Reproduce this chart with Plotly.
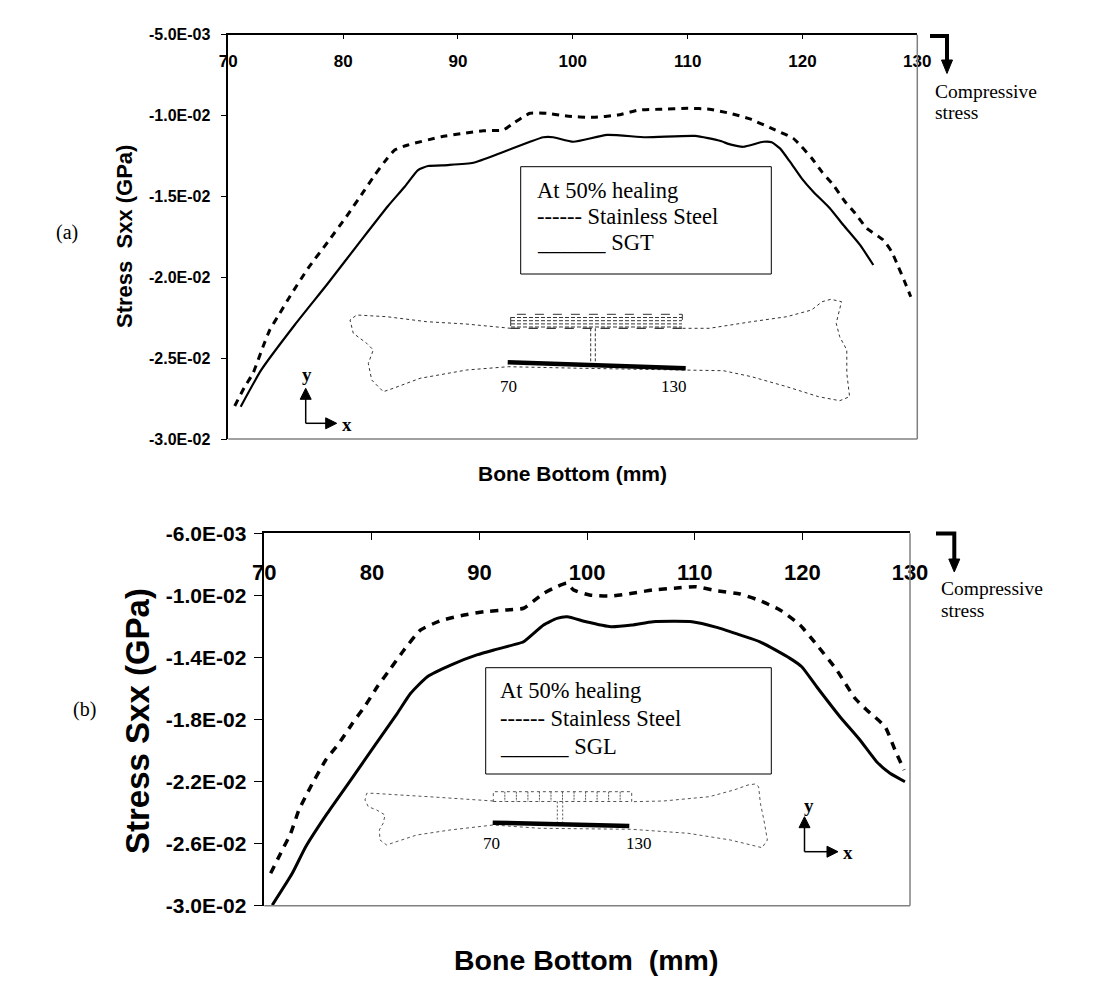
import plotly.graph_objects as go

W, H = 1093, 1005
OFF = 8  # the page places the figure 8px from the top-left corner

# ---------------- data ----------------
x_ss_a = [70.56, 71.43, 72.15, 73.02, 73.61, 74.48, 75.35, 76.94, 78.68, 80.28, 81.88, 82.75, 83.62,
          84.49, 85.65, 88.55, 90.47, 92.21, 93.95, 94.82, 96.27, 97.73, 99.47, 101.75, 103.90,
          105.74, 107.59, 110.04, 111.89, 113.69, 115.43, 117.17, 119.20, 119.93, 120.81, 121.68,
          122.69, 123.71, 124.58, 125.60, 127.04, 127.77, 128.35, 128.84, 129.43]
y_ss_a = [-0.02796, -0.02677, -0.02594, -0.0243, -0.02326, -0.02223, -0.0212, -0.01945, -0.0178,
          -0.01625, -0.0146, -0.01368, -0.01285, -0.01213, -0.01182, -0.01131, -0.0111, -0.01094,
          -0.01089, -0.01048, -0.00986, -0.00986, -0.01003, -0.01011, -0.00997, -0.00966, -0.00961,
          -0.00955, -0.00961, -0.00986, -0.01021, -0.01075, -0.01141, -0.01193, -0.01264, -0.01347,
          -0.0143, -0.01533, -0.01604, -0.01697, -0.0177, -0.01842, -0.01935, -0.02017, -0.0212]

x_sgt = [71.08, 72.87, 75.78, 78.68, 81.58, 83.91, 85.36, 86.52, 87.39, 89.13, 91.34, 93.66, 96.27,
         97.43, 98.30, 100.04, 102.98, 106.36, 110.65, 112.80, 113.69, 114.85, 116.59, 117.32,
         118.04, 118.91, 119.93, 120.94, 122.40, 123.56, 125.01, 126.17]
y_sgt = [-0.0280, -0.02573, -0.02295, -0.02037, -0.0177, -0.01559, -0.0144, -0.01337, -0.01312,
         -0.01306, -0.01292, -0.01233, -0.01162, -0.01134, -0.01134, -0.01162, -0.0112, -0.01134,
         -0.01126, -0.01156, -0.01178, -0.01193, -0.01162, -0.01165, -0.01203, -0.01285, -0.01388,
         -0.01471, -0.01574, -0.01677, -0.018, -0.01924]

x_ss_b = [70.59, 71.67, 72.45, 73.22, 74.31, 75.71, 76.94, 78.18, 79.42, 80.50, 81.75, 82.98, 84.53,
          86.39, 88.56, 90.41, 92.54, 94.09, 95.95, 97.19, 98.12, 98.74, 100.23, 102.20, 104.17,
          106.13, 108.10, 110.06, 112.03, 114.20, 115.90, 117.92, 119.78, 121.48, 123.19, 124.89,
          125.98, 127.68, 128.61, 129.45]
y_ss_b = [-0.02791, -0.02641, -0.02534, -0.02383, -0.02233, -0.02061, -0.01953, -0.01825, -0.01707,
          -0.01589, -0.0147, -0.01352, -0.01223, -0.01163, -0.01127, -0.01105, -0.01094, -0.01083,
          -0.00987, -0.00944, -0.00922, -0.00965, -0.00998, -0.01004, -0.00987, -0.00965, -0.00954,
          -0.00944, -0.0097, -0.00991, -0.0103, -0.01094, -0.01191, -0.01331, -0.01481, -0.01663,
          -0.01739, -0.01846, -0.01997, -0.02126]

x_sgl = [70.74, 72.60, 73.85, 75.85, 78.03, 80.19, 82.36, 83.60, 85.15, 87.32, 89.75, 91.34, 93.47,
         94.09, 95.95, 97.19, 98.15, 99.90, 102.20, 104.17, 106.13, 109.74, 112.04, 114.20, 116.06,
         118.85, 119.94, 121.33, 123.49, 125.35, 126.90, 128.14, 129.53]
y_sgl = [-0.02996, -0.02791, -0.0262, -0.02405, -0.0219, -0.01975, -0.0176, -0.01631, -0.01524,
         -0.01449, -0.01384, -0.01352, -0.01313, -0.01299, -0.01191, -0.01148, -0.01138, -0.0117,
         -0.01202, -0.01191, -0.0117, -0.0117, -0.01206, -0.01255, -0.01299, -0.01406, -0.0146,
         -0.01589, -0.01782, -0.01932, -0.02072, -0.02147, -0.02201]

x_ticks = [70, 80, 90, 100, 110, 120, 130]
y_ticks_a = [-0.03, -0.025, -0.02, -0.015, -0.01, -0.005]
y_text_a = ["-3.0E-02", "-2.5E-02", "-2.0E-02", "-1.5E-02", "-1.0E-02", "-5.0E-03"]
y_ticks_b = [-0.03, -0.026, -0.022, -0.018, -0.014, -0.010, -0.006]
y_text_b = ["-3.0E-02", "-2.6E-02", "-2.2E-02", "-1.8E-02", "-1.4E-02", "-1.0E-02", "-6.0E-03"]

# ---------------- helpers (page pixel -> paper) ----------------
def X(px):
    return (px - OFF) / W

def Y(py):
    return 1 - (py - OFF) / H

SANS = "Liberation Sans, Arial, sans-serif"
SERIF = "Liberation Serif, Times New Roman, serif"

# plot areas in page pixels
A = dict(l=228.3, r=917.3, t=34.7, b=439.0)
B = dict(l=264.3, r=910.0, t=533.3, b=905.7)

fig = go.Figure()
fig.add_trace(go.Scatter(x=x_ss_a, y=y_ss_a, mode="lines", name="Stainless Steel",
                         line=dict(color="black", width=3, dash="7px,6px", shape="spline", smoothing=0.5),
                         xaxis="x", yaxis="y", showlegend=False))
fig.add_trace(go.Scatter(x=x_sgt, y=y_sgt, mode="lines", name="SGT",
                         line=dict(color="black", width=2.2, shape="spline", smoothing=0.5),
                         xaxis="x", yaxis="y", showlegend=False))
fig.add_trace(go.Scatter(x=x_ss_b, y=y_ss_b, mode="lines", name="Stainless Steel",
                         line=dict(color="black", width=3.5, dash="8px,7px", shape="spline", smoothing=0.5),
                         xaxis="x2", yaxis="y2", showlegend=False))
fig.add_trace(go.Scatter(x=x_sgl, y=y_sgl, mode="lines", name="SGL",
                         line=dict(color="black", width=3, shape="spline", smoothing=0.5),
                         xaxis="x2", yaxis="y2", showlegend=False))

def xaxis_cfg(P, size, ticklen, standoff):
    return dict(domain=[X(P["l"]), X(P["r"])], range=[70, 130], side="top",
                tickvals=x_ticks, ticktext=[str(v) for v in x_ticks],
                ticks="inside", ticklen=ticklen, tickcolor="black", tickwidth=1,
                ticklabelposition="inside", ticklabeloverflow="allow",
                ticklabelstandoff=standoff, automargin=False,
                tickfont=dict(family=SANS, size=size, color="black", weight="bold"),
                showline=True, linecolor="black", linewidth=1.5,
                showgrid=False, zeroline=False, fixedrange=True)

def yaxis_cfg(P, vals, texts, rng, size, ticklen, standoff):
    return dict(domain=[Y(P["b"]), Y(P["t"])], range=rng,
                tickvals=vals, ticktext=texts,
                ticks="outside", ticklen=ticklen, tickcolor="black", tickwidth=1,
                ticklabelstandoff=standoff, automargin=False,
                tickfont=dict(family=SANS, size=size, color="black", weight="bold"),
                showline=True, linecolor="black", linewidth=1.5,
                showgrid=False, zeroline=False, fixedrange=True)

fig.update_layout(
    width=W, height=H, autosize=False,
    margin=dict(l=0, r=0, t=0, b=0, pad=0),
    paper_bgcolor="white", plot_bgcolor="white",
    xaxis=dict(xaxis_cfg(A, 17, 5, 16), anchor="y"),
    yaxis=dict(yaxis_cfg(A, y_ticks_a, y_text_a, [-0.03, -0.005], 16, 6, 7), anchor="x"),
    xaxis2=dict(xaxis_cfg(B, 22, 7, 26), anchor="y2"),
    yaxis2=dict(yaxis_cfg(B, y_ticks_b, y_text_b, [-0.03, -0.006], 21, 9, 3), anchor="x2"),
)

shapes = []
GRAY = "#808080"
# right & bottom gray borders of plot areas
for P in (A, B):
    shapes.append(dict(type="line", xref="paper", yref="paper", x0=X(P["r"]), x1=X(P["r"]),
                       y0=Y(P["t"]), y1=Y(P["b"]), line=dict(color=GRAY, width=1.5)))
    shapes.append(dict(type="line", xref="paper", yref="paper", x0=X(P["l"]), x1=X(P["r"]),
                       y0=Y(P["b"]), y1=Y(P["b"]), line=dict(color=GRAY, width=1.5)))

def path(points, closed=False):
    s = "M " + " L ".join(f"{X(px):.5f},{Y(py):.5f}" for px, py in points)
    return s + (" Z" if closed else "")

def pline(points, color="black", width=1, dash="solid", fill=None, closed=False):
    d = dict(type="path", xref="paper", yref="paper", path=path(points, closed),
             line=dict(color=color, width=width, dash=dash))
    if fill:
        d["fillcolor"] = fill
    shapes.append(d)

# legend boxes
for (l, t, r, b) in [(520.7, 166.7, 771.3, 274.0), (485.7, 667.7, 771.3, 774.0)]:
    shapes.append(dict(type="rect", xref="paper", yref="paper", x0=X(l), x1=X(r), y0=Y(b), y1=Y(t),
                       line=dict(color="black", width=1), fillcolor="white"))

# compressive arrows
for (hx0, hy, vx, vy1, tip) in [(930, 36, 947, 61, 73.5), (936, 533.5, 954.3, 560, 572)]:
    pline([(hx0, hy), (vx, hy), (vx, vy1)], width=4)
    pline([(vx - 5.5, vy1 - 1), (vx + 5.5, vy1 - 1), (vx, tip)], width=1, fill="black", closed=True)

# ---- bone diagram (a) ----
BONE = "#333333"
bone_a = [(510.7, 328.3), (466, 324), (426.7, 321.7), (386.7, 316.7), (356.7, 315), (350, 320),
          (353.3, 333.3), (366.7, 343.3), (373.3, 350), (368.3, 363.3), (371.7, 380), (383.3, 391.7),
          (393.3, 388.3), (420, 378.3), (466.7, 370), (508.3, 366.7), (582.3, 368.3), (723.4, 370.7),
          (751.6, 376.7), (786.8, 386.7), (818.6, 396.7), (839.7, 400.7), (849.6, 396.7),
          (846.8, 373.3), (846.8, 350), (839.7, 336.7), (836.2, 323.3), (841.5, 301.7),
          (830.9, 299.3), (822.1, 301.7), (811.5, 310), (786.8, 316.7), (751.6, 321.7),
          (709.3, 328.3), (682.3, 328.3)]
pline(bone_a, color=BONE, width=1, dash="dot")
# plate with hatching
shapes.append(dict(type="rect", xref="paper", yref="paper", x0=X(510.7), x1=X(682.3),
                   y0=Y(328.3), y1=Y(314.3), line=dict(color=BONE, width=1, dash="dash")))
for yy in (317.5, 320.7, 323.9, 327.0):
    pline([(511, yy), (682, yy)], color=BONE, width=1, dash="4px,2px")
pline([(510.7, 328.3), (682.3, 328.3)], color=BONE, width=1, dash="dash")
# screw
pline([(590.7, 328.3), (590.7, 368)], color=BONE, width=1, dash="3px,2px")
pline([(595.3, 328.3), (595.3, 368)], color=BONE, width=1, dash="3px,2px")
# bottom thick plate
pline([(507.7, 362.3), (685.7, 368.3)], width=4.5)

# ---- bone diagram (b) ----
bone_b = [(493.3, 801), (433.3, 797), (400, 795), (373.3, 793.3), (366.7, 793.3), (365, 800),
          (368.3, 806.7), (376.7, 810), (385, 815), (383.3, 823), (379.3, 830), (380, 840),
          (386.7, 845), (393.3, 842.7), (416.7, 835), (450, 830), (493.3, 825), (540, 828.3),
          (631.7, 829.3), (688.1, 833.3), (730.4, 840), (762.1, 847.7), (767.4, 840),
          (763.9, 820), (760.4, 803.3), (758.6, 786.7), (755.1, 784), (748, 785), (733.9, 790),
          (709.3, 796.7), (663.4, 801), (631.7, 801.7)]
pline(bone_b, color="#555555", width=1, dash="dot")
shapes.append(dict(type="rect", xref="paper", yref="paper", x0=X(493.3), x1=X(631.7),
                   y0=Y(801.5), y1=Y(791.7), line=dict(color="#555555", width=1, dash="dot")))
for i in range(1, 12):
    xx = 493.3 + i * (631.7 - 493.3) / 12
    pline([(xx, 791.7), (xx, 801.5)], color="#555555", width=1, dash="2px,1px")
pline([(557.3, 801.5), (557.3, 822.7)], color="#555555", width=1, dash="2px,2px")
pline([(562.7, 801.5), (562.7, 822.7)], color="#555555", width=1, dash="2px,2px")
pline([(492.7, 822.7), (629.3, 826)], width=4.5)

# xy direction indicators
for (cx, cy, ty, rx) in [(305.7, 423.3, 388.3, 336.7), (804.5, 851.7, 816.7, 838.0)]:
    pline([(cx, cy), (cx, ty + 10)], width=1.5)
    pline([(cx - 5.5, ty + 11), (cx + 5.5, ty + 11), (cx, ty)], width=1, fill="black", closed=True)
    pline([(cx, cy), (rx - 10, cy)], width=1.5)
    pline([(rx - 11, cy - 5.5), (rx - 11, cy + 5.5), (rx, cy)], width=1, fill="black", closed=True)

fig.update_layout(shapes=shapes)

# ---------------- annotations ----------------
ann = []

def txt(text, px, py, size, family=SANS, bold=False, angle=0, xanchor="center", yanchor="middle"):
    ann.append(dict(text=text, x=X(px), y=Y(py), xref="paper", yref="paper", showarrow=False,
                    textangle=angle, xanchor=xanchor, yanchor=yanchor,
                    font=dict(family=family, size=size, color="black",
                              weight="bold" if bold else "normal")))

# axis titles
txt("Stress  Sxx (GPa)", 125, 237, 22, bold=True, angle=-90)
txt("Bone Bottom (mm)", 572, 473, 21, bold=True)
txt("Stress Sxx (GPa)", 137, 721, 33, bold=True, angle=-90)
txt("Bone Bottom  (mm)", 586, 960, 28.5, bold=True)

# panel labels
txt("(a)", 67, 233, 20, family=SERIF)
txt("(b)", 84, 709, 20, family=SERIF)

# compressive stress notes
txt("Compressive", 933, 91, 19.5, family=SERIF, xanchor="left")
txt("stress", 933, 113, 19.5, family=SERIF, xanchor="left")
txt("Compressive", 939, 588, 19.5, family=SERIF, xanchor="left")
txt("stress", 939, 610, 19.5, family=SERIF, xanchor="left")

# legend box texts
txt("At 50% healing", 535, 190, 22.5, family=SERIF, xanchor="left")
txt("------ Stainless Steel", 535, 217, 22.5, family=SERIF, xanchor="left")
txt("______ SGT", 535, 243, 22.5, family=SERIF, xanchor="left")
txt("At 50% healing", 498, 690, 22.5, family=SERIF, xanchor="left")
txt("------ Stainless Steel", 498, 718, 22.5, family=SERIF, xanchor="left")
txt("______ SGL", 498, 746, 22.5, family=SERIF, xanchor="left")

# bone labels
txt("70", 508.3, 386.7, 17, family=SERIF)
txt("130", 674.3, 386.7, 17, family=SERIF)
txt("70", 491.7, 843.3, 17, family=SERIF)
txt("130", 639.3, 843.3, 17, family=SERIF)

# xy labels
txt("y", 306.7, 375, 19, family=SERIF, bold=True)
txt("x", 347.3, 424, 19, family=SERIF, bold=True)
txt("y", 809, 805, 19, family=SERIF, bold=True)
txt("x", 847.8, 852, 19, family=SERIF, bold=True)

fig.update_layout(annotations=ann)

fig.write_html("out.html")
